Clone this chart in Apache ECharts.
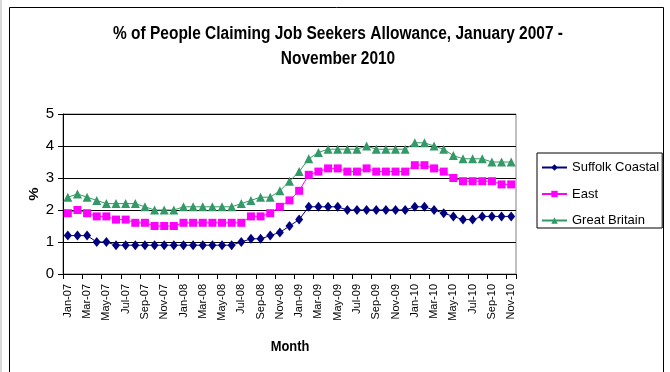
<!DOCTYPE html>
<html>
<head>
<meta charset="utf-8">
<script src="https://cdn.jsdelivr.net/npm/echarts@6/dist/echarts.min.js"></script>
<style>
  html, body { margin: 0; padding: 0; background: #ffffff; }
  #chart { width: 670px; height: 372px; }
</style>
</head>
<body>
<div id="chart"></div>
<script>
// Month labels Jan-07 .. Nov-10
const monthNames = ['Jan','Feb','Mar','Apr','May','Jun','Jul','Aug','Sep','Oct','Nov','Dec'];
const months = [];
for (let y = 7; y <= 10; y++) {
  for (let m = 0; m < 12; m++) {
    if (y === 10 && m > 10) break;
    months.push(monthNames[m] + '-' + (y < 10 ? '0' + y : String(y)));
  }
}

// Claimant rate (%) by month
const suffolkCoastal = [1.2,1.2,1.2,1.0,1.0,0.9,0.9,0.9,0.9,0.9,0.9,0.9,0.9,0.9,0.9,0.9,0.9,0.9,1.0,1.1,1.1,1.2,1.3,1.5,
                        1.7,2.1,2.1,2.1,2.1,2.0,2.0,2.0,2.0,2.0,2.0,2.0,2.1,2.1,2.0,1.9,1.8,1.7,1.7,1.8,1.8,1.8,1.8];
const east           = [1.9,2.0,1.9,1.8,1.8,1.7,1.7,1.6,1.6,1.5,1.5,1.5,1.6,1.6,1.6,1.6,1.6,1.6,1.6,1.8,1.8,1.9,2.1,2.3,
                        2.6,3.1,3.2,3.3,3.3,3.2,3.2,3.3,3.2,3.2,3.2,3.2,3.4,3.4,3.3,3.2,3.0,2.9,2.9,2.9,2.9,2.8,2.8];
const greatBritain   = [2.4,2.5,2.4,2.3,2.2,2.2,2.2,2.2,2.1,2.0,2.0,2.0,2.1,2.1,2.1,2.1,2.1,2.1,2.2,2.3,2.4,2.4,2.6,2.9,
                        3.2,3.6,3.8,3.9,3.9,3.9,3.9,4.0,3.9,3.9,3.9,3.9,4.1,4.1,4.0,3.9,3.7,3.6,3.6,3.6,3.5,3.5,3.5];
const yTicks = [0, 1, 2, 3, 4, 5];

const titleLines = ['% of People Claiming Job Seekers Allowance, January 2007 -', 'November 2010'];
const xTitle = 'Month';
const yTitle = '%';

const FONT = '"Liberation Sans", Arial, sans-serif';
const NARROW = 0.86; // horizontal squeeze for the condensed heading face

const chart = echarts.init(document.getElementById('chart'), null, { renderer: 'canvas' });

function lineSeries(name, data, color, symbol, size) {
  return {
    name: name,
    type: 'line',
    data: data,
    symbol: symbol,
    symbolSize: size,
    showAllSymbol: true,
    lineStyle: { color: color, width: 1 },
    itemStyle: { color: color },
    emphasis: { disabled: true },
    animation: false
  };
}

function boldText(text, x, y, size, rotation) {
  return {
    type: 'text', x: x, y: y, rotation: rotation || 0,
    scaleX: rotation ? 1 : NARROW, scaleY: rotation ? NARROW : 1,
    silent: true,
    style: { text: text, fill: '#000', font: 'bold ' + size + 'px ' + FONT,
             align: 'center', verticalAlign: 'middle' }
  };
}

chart.setOption({
  animation: false,
  backgroundColor: '#ffffff',
  graphic: [
    { type: 'rect', shape: { x: 9.5, y: 7.5, width: 654, height: 380 },
      style: { fill: 'none', stroke: '#000', lineWidth: 1 }, silent: true },
    { type: 'rect', shape: { x: 0, y: 0, width: 2, height: 372 },
      style: { fill: '#d9d9d9' }, silent: true },
    boldText(titleLines[0], 338, 34, 18),
    boldText(titleLines[1], 338, 59, 18),
    boldText(xTitle, 290, 347, 15),
    boldText(yTitle, 34, 194, 15, Math.PI / 2)
  ],
  legend: {
    orient: 'vertical',
    left: 537,
    top: 153,
    padding: [8, 3, 1, 4],
    itemGap: 13.5,
    itemWidth: 25,
    itemHeight: 8,
    borderColor: '#000',
    borderWidth: 1,
    backgroundColor: '#fff',
    textStyle: { fontFamily: FONT, fontSize: 13, color: '#000' },
    data: ['Suffolk Coastal', 'East', 'Great Britain']
  },
  grid: {
    left: 63, right: 154, top: 114, bottom: 98,
    show: true, borderColor: '#808080', borderWidth: 1, containLabel: false
  },
  xAxis: {
    type: 'category',
    data: months,
    boundaryGap: true,
    axisLine: { lineStyle: { color: '#000', width: 1 } },
    axisTick: { show: true, interval: 1, length: 5, lineStyle: { color: '#000' } },
    axisLabel: { interval: 1, rotate: 90, margin: 10, fontFamily: FONT, fontSize: 11, color: '#000' },
    splitLine: { show: false }
  },
  yAxis: {
    type: 'value',
    min: yTicks[0],
    max: yTicks[yTicks.length - 1],
    interval: 1,
    axisLine: { show: true, lineStyle: { color: '#000', width: 1 } },
    axisTick: { show: true, length: 5, lineStyle: { color: '#000' } },
    axisLabel: { margin: 9, fontFamily: FONT, fontSize: 15, color: '#000' },
    splitLine: { show: true, lineStyle: { color: '#000', width: 1 } }
  },
  series: [
    lineSeries('Suffolk Coastal', suffolkCoastal, '#000080', 'diamond', [8, 10]),
    lineSeries('East', east, '#ff00ff', 'rect', 8),
    lineSeries('Great Britain', greatBritain, '#339966', 'triangle', 9)
  ]
});
</script>
</body>
</html>
